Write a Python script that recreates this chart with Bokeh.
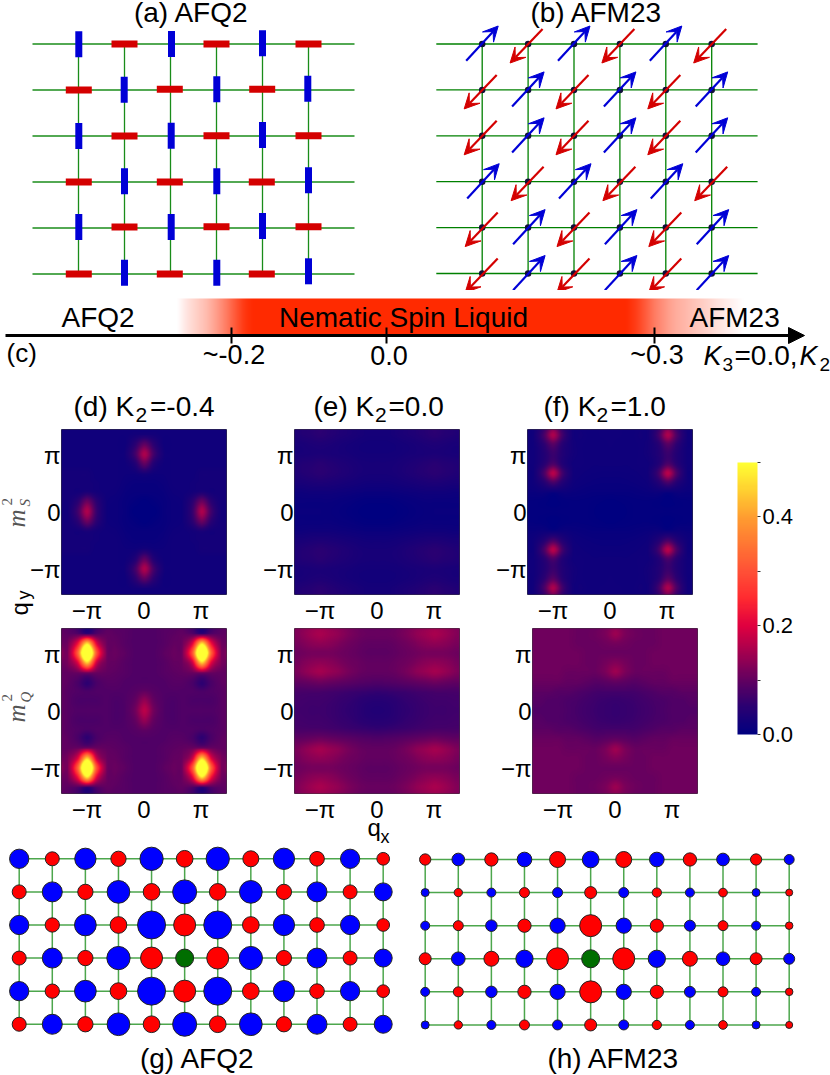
import math
import numpy as np
from bokeh.core.properties import value
from bokeh.embed import file_html
from bokeh.resources import INLINE
from bokeh.plotting import figure
from bokeh.layouts import row, column
from bokeh.models import (Range1d, FixedTicker, LinearColorMapper, ColorBar, Arrow, LinearAxis,
                          VeeHead, NormalHead, ColumnDataSource)

# ---------------- data ----------------
AFQ_KIND = [list("BRBRBR"), list("RBRBRB"), list("BRBRBR"),
            list("RBRBRB"), list("BRBRBR"), list("RBRBRB")]
AFQ_DX = [[.3, 0, 1, 0, 0, 0], [.3, -.3, -.7, .3, -.3, -.7], [.3, 0, .7, 0, 0, 0],
          [.3, 0, -.7, .3, -.7, 0], [.3, 0, .7, 0, 0, 0], [.3, 0, -.7, .3, -.7, 0]]
AFQ_DY = [[.3, 0, 0, 0, -.7, 0], [0, -.3, -.7, -.7, -.7, -1.3], [0, 0, -.3, -.3, -1, -.3],
          [0, -.7, 0, -.7, 0, -1.7], [-1, -1, -1, -1.3, -2, -1.3], [0, -1.3, 0, -1.3, 0, -2.7]]
AFM_KIND = [list("BRBRBR"), list("RBRBRB"), list("RBRBRB"),
            list("BRBRBR"), list("RBRBRB"), list("RBRBRB")]
AFM_ROW_SHIFT = [0, 0, 0, 1, 1, 1]

PHASE_ALPHA = [0, .12, .22, .32, .46, .62, .8, .95, 1, 1] + [1] * 36 + \
              [.92, .78, .62, .5, .4, .34, .28, .22, .16, .1, .05, 0]
PHASE_TICKS = [231, 386, 654]
PHASE_LABELS = ["~-0.2", "0.0", "~0.3"]

CB_TICKS = [0.0, 0.1, 0.2, 0.3, 0.4, 0.5]
CB_LABELS = ["0.0", "", "0.2", "", "0.4", ""]
CB_ANCHORS = [0.0, 0.05, 0.1, 0.15, 0.2, 0.25, 0.3, 0.4, 0.45, 0.5]
CB_COLORS = ["#000080", "#2a0072", "#620060", "#a3004f", "#e00040", "#ff2a30",
             "#ff5036", "#ff9d30", "#ffd030", "#ffff33"]

# first-quadrant samples (row = |qy| step, column = |qx| step, step = pi/6)
S_M04 = [[0, 0, .01, .015, .02, .06, .16, .07, .025, .025],
         [0, .005, .01, .015, .02, .05, .11, .05, .025, .025],
         [.01, .01, .012, .018, .02, .025, .035, .025, .025, .025],
         [.012, .012, .015, .02, .02, .022, .025, .025, .025, .025],
         [.03, .02, .018, .02, .02, .02, .025, .025, .025, .025],
         [.10, .04, .02, .02, .02, .02, .02, .02, .02, .02],
         [.16, .07, .025, .02, .02, .02, .02, .02, .02, .02],
         [.10, .05, .02, .02, .02, .02, .02, .02, .02, .02],
         [.03, .025, .02, .02, .02, .02, .02, .02, .02, .02],
         [.02, .02, .02, .02, .02, .02, .02, .02, .02, .02]]
Q_M04 = [[.17, .11, .085, .08, .085, .085, .085, .085, .09, .10],
         [.14, .10, .085, .08, .085, .08, .08, .08, .09, .10],
         [.10, .09, .085, .085, .085, .085, .08, .085, .09, .10],
         [.085, .085, .085, .09, .09, .08, .055, .08, .095, .10],
         [.085, .085, .09, .095, .10, .11, .13, .11, .10, .10],
         [.085, .085, .09, .10, .11, .18, .45, .20, .12, .11],
         [.085, .085, .095, .105, .12, .30, .70, .32, .125, .14],
         [.085, .085, .09, .10, .11, .20, .47, .22, .115, .11],
         [.085, .085, .09, .095, .10, .09, .07, .09, .095, .10],
         [.085, .085, .09, .09, .09, .07, .05, .07, .09, .095]]
S_00 = [[0, 0, .002, .005, .008, .01, .012, .012, .012, .012],
        [.003, .003, .005, .008, .01, .012, .012, .012, .012, .012],
        [.012, .012, .014, .016, .018, .02, .02, .02, .018, .018],
        [.022, .022, .024, .027, .03, .033, .035, .033, .03, .03],
        [.028, .028, .03, .035, .04, .045, .05, .045, .04, .035],
        [.028, .028, .03, .034, .038, .043, .048, .043, .04, .035],
        [.024, .024, .025, .028, .03, .032, .034, .032, .03, .03],
        [.022, .022, .024, .027, .03, .034, .036, .034, .03, .03],
        [.026, .026, .03, .034, .038, .044, .05, .044, .04, .035],
        [.026, .026, .03, .034, .04, .045, .052, .045, .04, .035]]
Q_00 = [[.04, .042, .05, .055, .06, .065, .068, .068, .07, .07],
        [.045, .047, .052, .058, .062, .067, .07, .07, .072, .072],
        [.06, .062, .065, .068, .072, .075, .078, .078, .078, .078],
        [.085, .087, .09, .095, .10, .105, .11, .105, .10, .10],
        [.10, .10, .105, .115, .13, .14, .15, .14, .125, .115],
        [.10, .10, .105, .11, .12, .13, .135, .13, .12, .11],
        [.095, .095, .10, .105, .11, .115, .115, .115, .11, .105],
        [.098, .098, .103, .11, .12, .13, .135, .13, .12, .115],
        [.105, .105, .11, .12, .135, .145, .155, .145, .13, .12],
        [.10, .10, .105, .115, .125, .135, .14, .135, .125, .115]]
S_10 = [[0, 0, .003, .005, .005, .005, .004, .005, .005, .005],
        [0, .002, .004, .005, .005, .003, 0, .003, .005, .005],
        [.008, .008, .008, .01, .012, .015, .01, .015, .012, .012],
        [.012, .012, .013, .015, .02, .04, .075, .04, .02, .015],
        [.015, .015, .016, .018, .025, .07, .17, .075, .022, .018],
        [.018, .018, .018, .02, .022, .04, .08, .045, .022, .02],
        [.018, .018, .018, .02, .025, .04, .065, .04, .022, .02],
        [.02, .018, .018, .02, .025, .045, .09, .05, .022, .02],
        [.02, .02, .018, .022, .025, .07, .16, .075, .025, .02],
        [.02, .02, .018, .02, .025, .05, .10, .05, .022, .02]]
Q_10 = [[.06, .062, .065, .07, .075, .08, .085, .085, .085, .085],
        [.062, .064, .067, .072, .077, .08, .085, .085, .09, .09],
        [.075, .075, .075, .08, .085, .09, .09, .095, .095, .095],
        [.10, .095, .09, .095, .10, .10, .105, .105, .105, .105],
        [.145, .12, .105, .105, .105, .105, .11, .11, .11, .11],
        [.125, .115, .105, .105, .11, .11, .11, .11, .11, .11],
        [.105, .105, .105, .105, .11, .11, .11, .11, .11, .11],
        [.115, .11, .105, .105, .105, .11, .11, .11, .11, .11],
        [.145, .12, .11, .105, .105, .11, .11, .11, .11, .11],
        [.125, .115, .105, .105, .105, .11, .11, .11, .11, .11]]

# correlation magnitudes (px diameter)
G_AFQ = [[19.3, 14, 21.3, 15.3, 23.3, 16.7, 23.3, 16, 21.3, 14.7, 19.3, 12.7],
         [14, 20, 15.3, 22.7, 16.7, 24, 16.7, 22.7, 15.3, 20, 14, 18],
         [19.3, 14.3, 21.7, 16.7, 28, 22, 28, 16.7, 21.3, 14.7, 19.3, 12.7],
         [14, 20, 15.3, 23.3, 22, 18, 22, 23.3, 15.3, 20, 14, 18],
         [19.3, 14.3, 21.7, 16.7, 28, 22, 28, 16.7, 21.3, 14.7, 19.3, 12.7],
         [14, 20, 15.3, 22.7, 16.7, 24, 16.7, 22.7, 15.3, 20, 14, 18]]
G_AFM = [[11.3, 12.7, 13.3, 14.7, 16, 16.7, 16, 14.7, 13.3, 12.7, 11.3, 10],
         [8, 8.3, 9, 10, 10, 12, 10, 9.3, 9, 8.7, 8, 7],
         [9, 10, 11.5, 13.3, 15.3, 22, 15.3, 13.3, 11, 10, 9, 7.5],
         [12, 13.7, 15, 17.3, 22, 18, 22, 17.3, 15, 13.7, 12, 11],
         [9, 10, 11.5, 13.3, 15.3, 22, 15.3, 13.3, 11, 10, 9, 7.5],
         [8, 8.3, 9, 10, 10, 12, 10, 9.3, 9, 8.7, 8, 7]]
G_AFQ_FIRST_BLUE = [1, 0, 1, 0, 1, 0]      # row parity: is column 0 blue?
G_AFM_FIRST_BLUE = [0, 1, 1, 0, 1, 1]

FONT = "Liberation Sans"
RED, BLUE = "#d40000", "#0000d6"
GREEN = "#008000"
MAP = {}   # figure id -> page-pixel to data conversion for its texts


def make_fig(w, h, l, t, fw, fh, xr, yr, **kw):
    p = figure(width=w, height=h, frame_width=fw, frame_height=fh,
               min_border_left=l, min_border_right=w - l - fw,
               min_border_top=t, min_border_bottom=h - t - fh,
               x_range=Range1d(*xr), y_range=Range1d(*yr),
               toolbar_location=None, output_backend="svg",
               x_axis_type=None, y_axis_type=None, **kw)
    p.grid.visible = False
    p.outline_line_color = None
    p.background_fill_alpha = 0
    p.border_fill_alpha = 0
    return p


def canvas(x0, y0, w, h, **kw):
    """figure whose data coordinates are the picture's pixels"""
    p = make_fig(w, h, 0, 0, w, h, (x0, x0 + w), (y0 + h, y0), **kw)
    MAP[p.id] = (0, 1, 0, 1)
    return p


def txt(p, x, y, s, size, align="left", font=FONT, style="normal", color="black", angle=0):
    # x, y give the baseline start; the text is anchored on the middle of its box
    ox, kx, oy, ky = MAP[p.id]
    if angle:
        x = x - .345 * size
    else:
        y = y - .345 * size
    p.text(x=[(x - ox) * kx], y=[(y - oy) * ky], text=[s], text_font=value(font),
           text_font_size=f"{size}px", text_font_style=style, text_color=color,
           text_align=align, text_baseline="middle", angle=angle)


def cubic_rows(a, k):
    """Catmull-Rom shading between the read samples, along each row"""
    n = a.shape[1]
    u = np.arange((n - 1) * k + 1) / k
    i = np.clip(u.astype(int), 0, n - 2)
    t = (u - i)[None, :]
    p0 = a[:, np.clip(i - 1, 0, n - 1)]
    p1 = a[:, i]
    p2 = a[:, i + 1]
    p3 = a[:, np.clip(i + 2, 0, n - 1)]
    return .5 * (2 * p1 + (p2 - p0) * t + (2 * p0 - 5 * p1 + 4 * p2 - p3) * t ** 2 +
                 (3 * p1 - p0 - 3 * p2 + p3) * t ** 3)


# ---------------- (a) ----------------
N = 6
S_A = 46
pa = make_fig(415, 290, 0, 0, 415, 290, (-78 / S_A, 337 / S_A), (246.5 / S_A, -43.5 / S_A))
MAP[pa.id] = (78, 1 / S_A, 43.5, 1 / S_A)
idx = list(range(N))
pa.segment(x0=[-1] * N, x1=[6] * N, y0=idx, y1=idx, line_color=GREEN, line_width=1.3, line_alpha=.9)
pa.segment(x0=idx, x1=idx, y0=[0] * N, y1=[5] * N, line_color=GREEN, line_width=1.3, line_alpha=.9)
for kind, col, tw, th in (("R", RED, 26, 7), ("B", BLUE, 7, 26)):
    xs, ys = [], []
    for j in range(N):
        for i in range(N):
            if AFQ_KIND[j][i] == kind:
                xs.append(i + AFQ_DX[j][i] / S_A)
                ys.append(j + AFQ_DY[j][i] / S_A)
    pa.rect(x=xs, y=ys, width=tw, height=th, width_units="screen", height_units="screen",
            fill_color=col, line_color=None)
txt(pa, 191, 21.5, "(a) AFQ2", 28, "center")

# ---------------- (b) ----------------
SP = 45.9
pb = make_fig(415, 290, 0, 0, 415, 290, (-66.7 / SP, 348.3 / SP), (246.5 / SP, -43.5 / SP))
MAP[pb.id] = (481.7, 1 / SP, 43.5, 1 / SP)
pb.segment(x0=[-1] * N, x1=[6] * N, y0=idx, y1=idx, line_color=GREEN, line_width=1.3)
pb.segment(x0=idx, x1=idx, y0=[0] * N, y1=[5] * N, line_color=GREEN, line_width=1.3)
sx = [i for j in idx for i in idx]
sy = [j for j in idx for i in idx]
pb.scatter(x=sx, y=sy, size=6.5, fill_color="#101038", line_color=None)
for kind, col, st, en in (("B", BLUE, (-16, 16.7), (16, -18)), ("R", RED, (14.5, -15), (-18, 19))):
    d = dict(x0=[], y0=[], x1=[], y1=[])
    for j in idx:
        for i in idx:
            if AFM_KIND[j][i] == kind:
                sh = AFM_ROW_SHIFT[j]
                d["x0"].append(i + (st[0] + sh) / SP)
                d["y0"].append(j + st[1] / SP)
                d["x1"].append(i + (en[0] + sh) / SP)
                d["y1"].append(j + en[1] / SP)
    pb.add_layout(Arrow(x_start="x0", y_start="y0", x_end="x1", y_end="y1",
                        source=ColumnDataSource(d), line_color=col, line_width=2.2,
                        end=VeeHead(size=15, fill_color=col, line_color=col, line_width=1)))
txt(pb, 596, 21.5, "(b) AFM23", 28, "center")

# ---------------- (c) ----------------
pc = canvas(0, 290, 830, 95)
pal = [f"#ff{int(255 - a * 213):02x}{int(255 - a * 255):02x}" for a in np.linspace(0, 1, 256)]
band = LinearColorMapper(palette=pal, low=0, high=1)
strip = cubic_rows(np.array([PHASE_ALPHA], dtype=float), 5)
pc.image(image=[strip], x=175, y=298, dw=10 * (len(PHASE_ALPHA) - 1), dh=37, color_mapper=band)
pc.segment(x0=[5], x1=[790], y0=[335], y1=[335], line_color="black", line_width=3)
pc.segment(x0=PHASE_TICKS, x1=PHASE_TICKS, y0=[327] * 3, y1=[343] * 3, line_color="black", line_width=2)
for tx, lb in zip(PHASE_TICKS, PHASE_LABELS):
    txt(pc, tx + 2.5, 364, lb, 27, "center")
pc.add_layout(Arrow(x_start=786, y_start=335, x_end=804, y_end=335, line_width=3,
                    end=NormalHead(size=16, fill_color="black", line_color="black")))
txt(pc, 61, 326.5, "AFQ2", 28)
txt(pc, 403, 326.5, "Nematic Spin Liquid", 28, "center")
txt(pc, 689, 326.5, "AFM23", 28)
txt(pc, 6, 361, "(c)", 26)
txt(pc, 703, 365, "K", 27, style="italic")
txt(pc, 722, 371, "3", 19)
txt(pc, 734, 365, "=0.0,", 28)
txt(pc, 799, 365, "K", 27, style="italic")
txt(pc, 819, 371, "2", 19)

# ---------------- (d)-(f) heat maps ----------------
cmap = LinearColorMapper(
    palette=["#%02x%02x%02x" % tuple(int(round(np.interp(v, CB_ANCHORS, [int(c[k:k + 2], 16) for c in CB_COLORS])))
                                     for k in (1, 3, 5))
             for v in np.linspace(0, .5, 256)],
    low=0, high=.5)
R_VIEW = 82.5 / 57 * math.pi
STEP = math.pi / 6
TICKS = [-math.pi, 0, math.pi]
TICK_TXT = ["\u2212\u03c0", "0", "\u03c0"]


def heat(q, w, h, l, t, **kw):
    p = make_fig(w, h, l, t, 165, 165, (-R_VIEW, R_VIEW), (-R_VIEW, R_VIEW), **kw)
    a = np.array(q, dtype=float)
    m = np.vstack([a[:0:-1], a])
    m = np.hstack([m[:, :0:-1], m])
    k = 10
    m = cubic_rows(cubic_rows(m, k).T, k).T
    E = 9 * STEP
    c = E / (18 * k)
    p.image(image=[np.clip(m, 0, None)], x=-E - c, y=-E - c, dw=2 * (E + c), dh=2 * (E + c),
            color_mapper=cmap)
    for side_name, st in (("below", 2), ("left", 1)):
        axis = LinearAxis(ticker=FixedTicker(ticks=TICKS),
                          major_label_overrides=dict(zip(TICKS, TICK_TXT)),
                          axis_line_color=None, major_tick_line_color=None,
                          minor_tick_line_color=None, major_tick_in=0, major_tick_out=0,
                          major_label_standoff=st, major_label_text_font=FONT,
                          major_label_text_font_size="24px", major_label_text_color="black")
        if side_name == "left":
            axis.major_label_orientation = "horizontal"
        p.add_layout(axis, side_name)
    p.outline_line_color = "#3a3a3a"
    p.outline_line_width = 1
    return p


H1, T1 = 199, 1
H2, T2 = 199, 1
pd = heat(S_M04, 233, H1, 37, T1, margin=(0, 0, 0, -11))
pe = heat(S_00, 233, H1, 37, T1)
pf = heat(S_10, 230, H1, 37, T1)
pd2 = heat(Q_M04, 233, H2, 37, T2, margin=(0, 0, 0, -11))
pe2 = heat(Q_00, 233, H2, 37, T2)
pf2 = heat(Q_10, 230, H2, 42, T2)

head = canvas(0, 385, 720, 43)
txt(head, 73, 415.5, "(d) K", 28)
txt(head, 135, 421.5, "2", 21)
txt(head, 149.5, 415.5, "=-0.4", 28)
txt(head, 313, 415.5, "(e) K", 28)
txt(head, 374.5, 421.5, "2", 21)
txt(head, 388, 415.5, "=0.0", 28)
txt(head, 543, 415.5, "(f) K", 28)
txt(head, 596, 421.5, "2", 21)
txt(head, 610, 415.5, "=1.0", 28)

side = canvas(0, 428, 35, 398)
SERIF = "Liberation Serif"
GREY = "#555555"
V = math.pi / 2
txt(side, 25, 527, "m", 25, font=SERIF, style="italic", color=GREY, angle=V)
txt(side, 30, 506, "S", 15, font=SERIF, style="italic", color=GREY, angle=V)
txt(side, 12, 505, "2", 15, font=SERIF, color=GREY, angle=V)
txt(side, 25, 722, "m", 25, font=SERIF, style="italic", color=GREY, angle=V)
txt(side, 31, 702, "Q", 15, font=SERIF, style="italic", color=GREY, angle=V)
txt(side, 12, 701, "2", 15, font=SERIF, color=GREY, angle=V)
txt(side, 27, 615, "q", 24, angle=V)
txt(side, 30, 599, "y", 18, angle=V)

foot = canvas(0, 822, 720, 23, margin=(-4, 0, 0, 0))
txt(foot, 367, 835, "q", 24)
txt(foot, 380, 843, "x", 18)

# ---------------- colour bar ----------------
pcb = make_fig(110, 460, 0, 0, 110, 460, (0, 1), (0, 1))
pcb.add_layout(ColorBar(color_mapper=cmap, ticker=FixedTicker(ticks=CB_TICKS),
                        major_label_overrides=dict(zip(CB_TICKS, CB_LABELS)),
                        width=20, height=272, location=(17, 111), padding=0, margin=0,
                        major_tick_in=0, major_tick_out=3, major_tick_line_color="#333333",
                        minor_tick_line_color=None, label_standoff=2, bar_line_color=None,
                        border_line_color=None, background_fill_alpha=0,
                        major_label_text_font=FONT, major_label_text_font_size="22px",
                        major_label_text_color="black"), "center")


# ---------------- (g), (h) ----------------
def lattice(vals, first_blue, px0, py0, page_x0, title, title_x):
    S = 33.09
    nx, ny = 12, 6
    p = make_fig(415, 230, 0, 0, 415, 230, (-px0 / S, (415 - px0) / S),
                 ((230 - py0) / S, -py0 / S))
    MAP[p.id] = (page_x0 + px0, 1 / S, 845 + py0, 1 / S)
    p.segment(x0=[0] * ny, x1=[nx - 1] * ny, y0=list(range(ny)), y1=list(range(ny)),
              line_color=GREEN, line_width=1.5, line_alpha=.7)
    p.segment(x0=list(range(nx)), x1=list(range(nx)), y0=[0] * nx, y1=[ny - 1] * nx,
              line_color=GREEN, line_width=1.5, line_alpha=.7)
    xs, ys, sz, cl = [], [], [], []
    for j in range(ny):
        for i in range(nx):
            xs.append(i)
            ys.append(j)
            sz.append(vals[j][i])
            if j == 3 and i == 5:
                cl.append("#006e00")
            else:
                cl.append("#0000ff" if (i % 2 == 0) == bool(first_blue[j]) else "#ff0000")
    p.scatter(x=xs, y=ys, size=sz, fill_color=cl, line_color="#222222", line_width=1)
    txt(p, title_x, 1067.5, title, 28, "center")
    return p


pg = lattice(G_AFQ, G_AFQ_FIRST_BLUE, 18.7, 13.3, 0, "(g) AFQ2", 197)
ph = lattice(G_AFM, G_AFM_FIRST_BLUE, 9.7, 14, 415, "(h) AFM23", 613)

layout = column(
    row(pa, pb),
    pc,
    row(column(head,
               row(side, column(row(pd, pe, pf), row(pd2, pe2, pf2))),
               foot),
        pcb),
    row(pg, ph),
)
open("out.html", "w").write(file_html(layout, INLINE))
